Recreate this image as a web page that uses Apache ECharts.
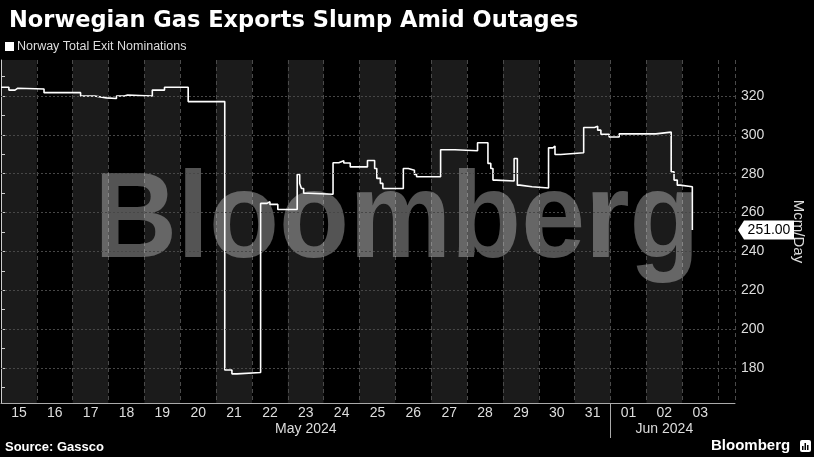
<!DOCTYPE html>
<html><head><meta charset="utf-8">
<script src="https://cdn.jsdelivr.net/npm/echarts@6/dist/echarts.min.js"></script>
<style>html,body{margin:0;padding:0;background:#000}#c{width:814px;height:457px}</style>
</head><body><div id="c"></div>
<script>
const chartTitle = 'Norwegian Gas Exports Slump Amid Outages';
const seriesName = 'Norway Total Exit Nominations';
const sourceText = 'Source: Gassco';
const yName = 'Mcm/Day';
const dayLabels = ['15','16','17','18','19','20','21','22','23','24','25','26','27','28','29','30','31','01','02','03'];
const monthLabels = ['May 2024', 'Jun 2024'];
const monthLabelDays = [8.5, 18.5];
const monthBreakDays = [17];
// time in days since 15 May 2024 00:00
const tDays = [0, 0.22, 0.39, 0.47, 1.2, 2.22, 2.61, 2.94, 3.22, 3.44, 3.53, 4.22, 4.56, 5.22,
  6.24, 6.44, 6.58, 7.24, 7.42, 7.5, 7.72,
  8.26, 8.33, 8.38, 8.44, 8.58, 9.26, 9.42, 9.56, 9.74,
  10.22, 10.42, 10.48, 10.58, 10.65, 11.22, 11.36, 11.53, 11.59,
  12.26, 12.66, 13.29, 13.58, 13.66, 13.72, 13.81,
  14.31, 14.4, 14.47, 14.81, 15.27, 15.39, 15.45, 15.61,
  16.25, 16.55, 16.64, 16.73, 16.96, 17.24, 18.26,
  18.69, 18.77, 18.86, 18.94, 19.28];
const values = [324.5, 323, 324, 323.6, 321.7, 320, 319, 318.7, 320, 320.5, 320, 323, 324.5, 317.1,
  179, 177, 177.7, 264.7, 265.6, 264.2, 261.6,
  279.6, 275, 272.4, 269.9, 269.4, 285.6, 286.6, 285.5, 283.5,
  286.8, 282.7, 277.6, 275, 272.4, 282.7, 281.8, 279.6, 278.4,
  292.3, 291.8, 295.9, 285.3, 282.7, 276.7, 276.2,
  287.8, 274.1, 273.3, 272.6, 293.3, 294.2, 289.9, 290.8,
  303.8, 304.4, 302.4, 300.3, 298.9, 300.5, 301.4,
  281, 276.7, 274.1, 273.3, 251.00];
const yLabelTicks = [180, 200, 220, 240, 260, 280, 300, 320];
const yMinorTicks = [170, 180, 190, 200, 210, 220, 230, 240, 250, 260, 270, 280, 290, 300, 310, 320, 330];

const X_MIN = 0, X_MAX = 20.47, Y_MIN = 162, Y_MAX = 338.5;
const lastValue = values[values.length - 1];
const labelFont = 'Liberation Sans';
const bandColors = dayLabels.map((_, i) => (i % 2 ? '#000000' : '#1b1b1b')).concat(['#000000']);

const chart = echarts.init(document.getElementById('c'), null, {renderer: 'canvas'});
const xBase = {type: 'value', min: X_MIN, max: X_MAX, gridIndex: 0};
chart.setOption({
  backgroundColor: '#000',
  animation: false,
  title: {
    text: chartTitle, left: 4, top: 5,
    textStyle: {color: '#fff', fontSize: 22.5, fontWeight: 'bold', fontFamily: 'DejaVu Sans'}
  },
  legend: {
    data: [seriesName], left: 5, top: 40, padding: 0, icon: 'rect',
    itemWidth: 9, itemHeight: 9, itemGap: 10,
    textStyle: {color: '#ddd', fontSize: 12.5, fontFamily: labelFont, padding: [0, 0, 0, -2]}
  },
  grid: {left: 1, right: 76, top: 60, bottom: 54, containLabel: false},
  xAxis: [
    Object.assign({}, xBase, {
      interval: 1, position: 'bottom',
      axisLine: {show: true, onZero: false, lineStyle: {color: '#aaa', width: 1}},
      axisTick: {show: false}, axisLabel: {show: false},
      splitLine: {show: true, lineStyle: {color: '#4a4a4a', type: [4, 3], width: 1}},
      splitArea: {show: true, areaStyle: {color: bandColors}}
    }),
    Object.assign({}, xBase, {
      position: 'bottom', axisLine: {show: false}, axisTick: {show: false},
      splitLine: {show: false},
      axisLabel: {
        customValues: dayLabels.map((_, i) => i + 0.5),
        formatter: v => dayLabels[Math.floor(v)] || '',
        color: '#ddd', fontSize: 14, fontFamily: labelFont, margin: 3
      }
    }),
    Object.assign({}, xBase, {
      position: 'bottom', axisLine: {show: false}, splitLine: {show: false},
      axisTick: {show: true, customValues: monthBreakDays, length: 35, inside: false, lineStyle: {color: '#aaa', width: 1}},
      axisLabel: {
        customValues: monthLabelDays,
        formatter: v => monthLabels[monthLabelDays.indexOf(v)] || '',
        color: '#ddd', fontSize: 14, fontFamily: labelFont, margin: 19
      }
    })
  ],
  yAxis: {
    type: 'value', position: 'right', min: Y_MIN, max: Y_MAX,
    axisLine: {show: true, lineStyle: {color: '#ccc', width: 1}},
    axisTick: {show: true, customValues: yMinorTicks, length: 4, lineStyle: {color: '#ccc'}},
    axisLabel: {customValues: yLabelTicks, color: '#ddd', fontSize: 14, fontFamily: labelFont, margin: 6},
    splitLine: {show: false},
    name: yName, nameLocation: 'middle', nameRotate: -90, nameGap: 56,
    nameTextStyle: {color: '#ddd', fontSize: 15, fontFamily: labelFont}
  },
  graphic: [
    {type: 'text', z: 1, silent: true, x: 397, y: 223, scaleX: 0.94, style: {
      text: 'Bloomberg', x: 0, y: 0, textAlign: 'center', textVerticalAlign: 'middle',
      font: 'bold 122px "Liberation Sans"', fill: 'rgba(255,255,255,0.33)'}},
    {type: 'text', left: 5, top: 441, style: {
      text: sourceText, font: 'bold 13px "Liberation Sans"', fill: '#fff'}},
    {type: 'text', left: 711, top: 438, style: {
      text: 'Bloomberg', font: 'bold 15px "Liberation Sans"', fill: '#fff'}},
    {type: 'group', left: 800, top: 440, children: [
      {type: 'rect', shape: {x: 0, y: 0, width: 11, height: 12, r: 2}, style: {fill: '#fff'}},
      {type: 'rect', shape: {x: 2, y: 6, width: 1.5, height: 4}, style: {fill: '#000'}},
      {type: 'rect', shape: {x: 4.5, y: 3, width: 1.5, height: 7}, style: {fill: '#000'}},
      {type: 'rect', shape: {x: 7, y: 5, width: 1.5, height: 5}, style: {fill: '#000'}}
    ]}
  ],
  series: [{
    name: seriesName, type: 'line', step: 'end', showSymbol: false, clip: false, z: 3,
    xAxisIndex: 0, yAxisIndex: 0,
    data: tDays.map((t, i) => [t, values[i]]),
    lineStyle: {color: '#fff', width: 1.6},
    itemStyle: {color: '#fff'},
    markLine: {
      silent: true, symbol: ['none', 'none'], label: {show: false},
      lineStyle: {color: '#474747', type: [2, 2], width: 1},
      data: yLabelTicks.map(v => ({yAxis: v}))
    },
    markPoint: {
      silent: true,
      data: [{coord: [X_MAX, lastValue], value: lastValue}],
      symbol: 'path://M0,9 L6,0 L56,0 L56,18 L6,18 Z',
      symbolSize: [56, 19], symbolOffset: [31, 0], symbolKeepAspect: false,
      itemStyle: {color: '#fff'},
      label: {show: true, formatter: p => p.value.toFixed(2), color: '#000', fontSize: 14, fontFamily: labelFont, offset: [3, 0]}
    }
  }]
});
</script></body></html>
